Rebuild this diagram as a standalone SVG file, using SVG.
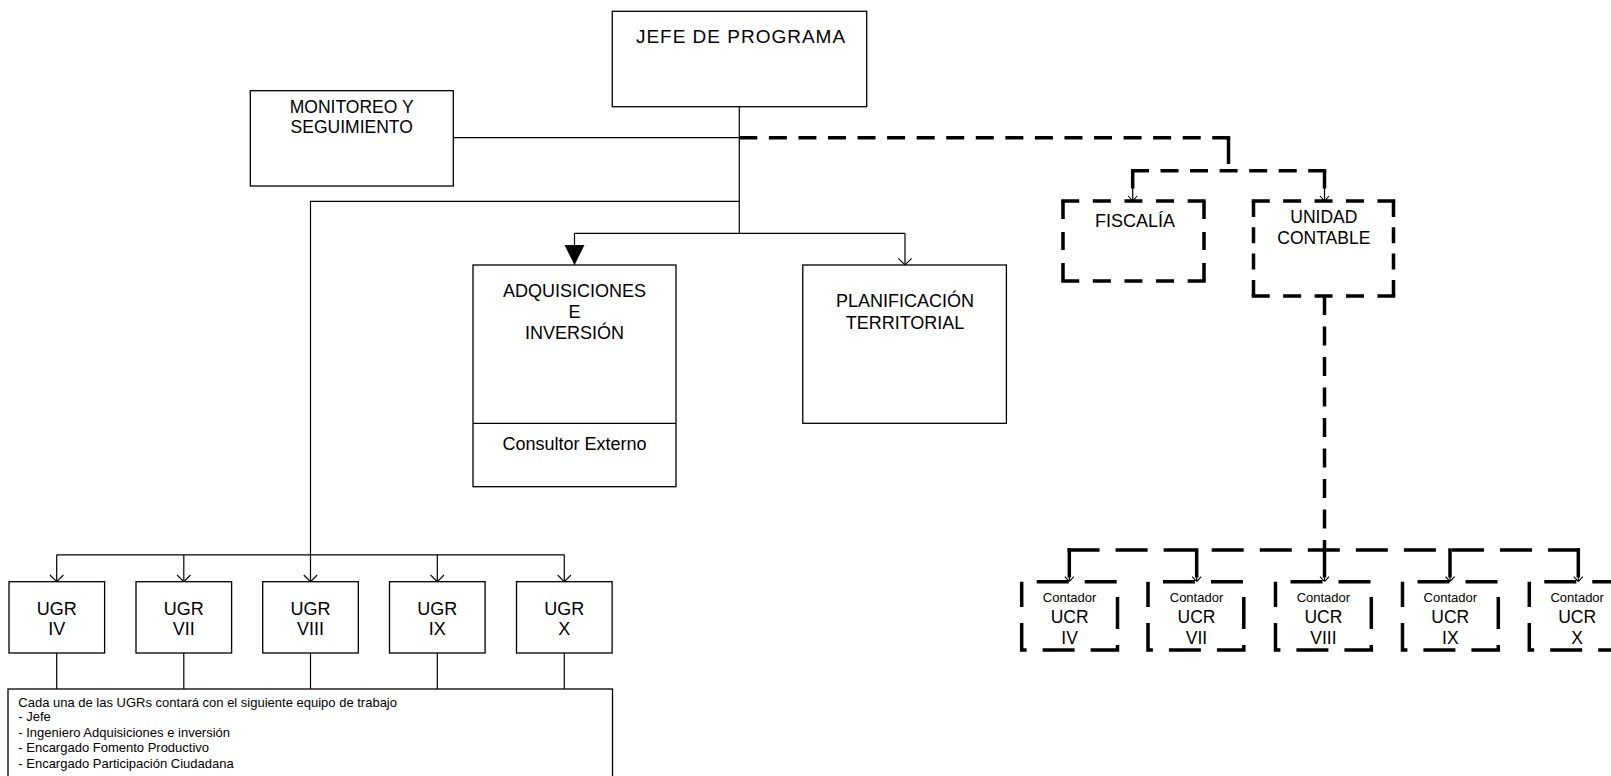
<svg xmlns="http://www.w3.org/2000/svg" width="1611" height="776" viewBox="0 0 1611 776">
<defs>
<style>
.box{fill:#fff;stroke:#000;stroke-width:1.3}
.t{font-family:"Liberation Sans",Arial,sans-serif;fill:#000;text-anchor:middle;font-size:18px}
.tl{font-family:"Liberation Sans",Arial,sans-serif;fill:#000;font-size:13px}
.sm{font-size:13px}
.ln{fill:none;stroke:#000;stroke-width:1.2}
.thk{fill:none;stroke:#000;stroke-width:3.5;stroke-linecap:butt}
.dh{fill:none;stroke:#000;stroke-width:3.5}
.ucr{fill:#fff;stroke:#000;stroke-width:3.5;stroke-dasharray:32 16;stroke-dashoffset:33}
</style>
<marker id="av" viewBox="-8 -8 9 16" refX="0" refY="0" markerWidth="9" markerHeight="16" markerUnits="userSpaceOnUse" orient="auto"><path d="M-6.7,-6.7 L0,0 L-6.7,6.7" fill="none" stroke="#000" stroke-width="1.1"/></marker>
<marker id="as" viewBox="-7 -6 8 12" refX="0" refY="0" markerWidth="8" markerHeight="12" markerUnits="userSpaceOnUse" orient="auto"><path d="M-5,-4.5 L0,0 L-5,4.5" fill="none" stroke="#000" stroke-width="1.1"/></marker>
<marker id="af" viewBox="-21 -11 22 22" refX="0" refY="0" markerWidth="22" markerHeight="22" markerUnits="userSpaceOnUse" orient="auto"><path d="M-20,-10 L0,0 L-20,10 Z" fill="#000"/></marker>
</defs>
<rect x="0" y="0" width="1611" height="776" fill="#fff"/>

<g id="connectors">
  <g id="solid-connectors">
    <path class="ln" d="M453.3,137.7 H739.3"/>
    <path class="ln" d="M739.3,106.7 V233.3"/>
    <path class="ln" d="M739.3,201.3 H310.5 V554.8"/>
    <path class="ln" d="M574.5,233.3 H905"/>
    <path class="ln" d="M574.5,233.3 V265" marker-end="url(#af)"/>
    <path class="ln" d="M905,233.3 V265" marker-end="url(#av)"/>
    <path class="ln" d="M56.7,554.8 H564.3"/>
    <path class="ln" d="M56.7,554.8 V581.7" marker-end="url(#av)"/>
    <path class="ln" d="M183.8,554.8 V581.7" marker-end="url(#av)"/>
    <path class="ln" d="M310.5,554.8 V581.7" marker-end="url(#av)"/>
    <path class="ln" d="M437.3,554.8 V581.7" marker-end="url(#av)"/>
    <path class="ln" d="M564.3,554.8 V581.7" marker-end="url(#av)"/>
    <path class="ln" d="M56.7,653 V689 M183.8,653 V689 M310.5,653 V689 M437.3,653 V689 M564.3,653 V689"/>
  </g>
  <g id="dashed-connectors">
    <path class="thk" d="M739.3,137.7 H1230.25" style="stroke-dasharray:18 11.56"/>
    <path class="thk" d="M1228.5,137.7 V164"/>
    <path class="thk" d="M1130.95,170.7 H1326.25" style="stroke-dasharray:18 11.55"/>
    <path class="thk" d="M1132.7,170.7 V188.5 M1324.5,170.7 V188.5"/>
    <path class="ln" d="M1132.7,188 V201" marker-end="url(#as)"/>
    <path class="ln" d="M1324.5,188 V201" marker-end="url(#as)"/>
    <path class="thk" d="M1324.5,296 V540" style="stroke-dasharray:19 11.5"/>
    <path class="thk" d="M1324.5,540 V577.5"/>
    <path class="thk" d="M1067.55,550 H1580.05" style="stroke-dasharray:32 16.05"/>
    <path class="thk" d="M1069.3,548.25 V577.5 M1196.7,548.25 V577.5 M1450,548.25 V577.5 M1578.3,548.25 V577.5"/>
    <path class="ln" d="M1069.3,577 V581.7" marker-end="url(#as)"/>
    <path class="ln" d="M1196.7,577 V581.7" marker-end="url(#as)"/>
    <path class="ln" d="M1324.5,577 V581.7" marker-end="url(#as)"/>
    <path class="ln" d="M1450,577 V581.7" marker-end="url(#as)"/>
    <path class="ln" d="M1578.3,577 V581.7" marker-end="url(#as)"/>
  </g>
</g>

<g id="jefe">
  <rect class="box" x="612.3" y="11.3" width="254.4" height="95.4"/>
  <text class="t" x="741" y="42.7" style="font-size:19px;letter-spacing:1px">JEFE DE PROGRAMA</text>
</g>
<g id="monitoreo">
  <rect class="box" x="250.3" y="90.7" width="203" height="95.3"/>
  <text class="t" x="351.7" y="112.7" style="font-size:17.5px">MONITOREO Y</text>
  <text class="t" x="351.7" y="133.3" style="font-size:17.5px">SEGUIMIENTO</text>
</g>
<g id="adquisiciones">
  <rect class="box" x="473" y="265" width="203" height="221.7"/>
  <line class="ln" x1="473" y1="423.3" x2="676" y2="423.3"/>
  <text class="t" x="574.5" y="296.7">ADQUISICIONES</text>
  <text class="t" x="574.5" y="317.7">E</text>
  <text class="t" x="574.5" y="339.3">INVERSIÓN</text>
  <text class="t" x="574.5" y="450">Consultor Externo</text>
</g>
<g id="planificacion">
  <rect class="box" x="802.8" y="265" width="203.6" height="158.3"/>
  <text class="t" x="905" y="307.3">PLANIFICACIÓN</text>
  <text class="t" x="905" y="329.3">TERRITORIAL</text>
</g>
<g id="fiscalia">
  <rect x="1063" y="201" width="141" height="80" fill="#fff"/>
  <path class="dh" d="M1061.25,201 H1205.75 M1061.25,281 H1205.75" style="stroke-dasharray:18 13.6"/>
  <path class="dh" d="M1063,201 V281 M1204,201 V281" style="stroke-dasharray:18 13"/>
  <text class="t" x="1135" y="226.7">FISCALÍA</text>
</g>
<g id="unidad-contable">
  <rect x="1253.5" y="201" width="140" height="95" fill="#fff"/>
  <path class="dh" d="M1251.75,201 H1395.25 M1251.75,296 H1395.25" style="stroke-dasharray:18 13.4"/>
  <path class="dh" d="M1253.5,201 V296 M1393.5,201 V296" style="stroke-dasharray:16 10.3"/>
  <text class="t" x="1323.8" y="222.7" style="font-size:17.5px">UNIDAD</text>
  <text class="t" x="1323.8" y="244" style="font-size:17.5px">CONTABLE</text>
</g>

<g id="ugr-iv">
  <rect class="box" x="9" y="581.7" width="95.6" height="71.3"/>
  <text class="t" x="56.7" y="615">UGR</text>
  <text class="t" x="56.7" y="635">IV</text>
</g>
<g id="ugr-vii">
  <rect class="box" x="136" y="581.7" width="95.6" height="71.3"/>
  <text class="t" x="183.8" y="615">UGR</text>
  <text class="t" x="183.8" y="635">VII</text>
</g>
<g id="ugr-viii">
  <rect class="box" x="262.7" y="581.7" width="95.6" height="71.3"/>
  <text class="t" x="310.5" y="615">UGR</text>
  <text class="t" x="310.5" y="635">VIII</text>
</g>
<g id="ugr-ix">
  <rect class="box" x="389.5" y="581.7" width="95.6" height="71.3"/>
  <text class="t" x="437.3" y="615">UGR</text>
  <text class="t" x="437.3" y="635">IX</text>
</g>
<g id="ugr-x">
  <rect class="box" x="516.5" y="581.7" width="95.6" height="71.3"/>
  <text class="t" x="564.3" y="615">UGR</text>
  <text class="t" x="564.3" y="635">X</text>
</g>

<g id="equipo">
  <rect class="box" x="8" y="689" width="604.5" height="120"/>
  <text class="tl" x="18.3" y="706.5">Cada una de las UGRs contará con el siguiente equipo de trabajo</text>
  <text class="tl" x="18.3" y="721">- Jefe</text>
  <text class="tl" x="18.3" y="736.5">- Ingeniero Adquisiciones e inversión</text>
  <text class="tl" x="18.3" y="752">- Encargado Fomento Productivo</text>
  <text class="tl" x="18.3" y="767.5">- Encargado Participación Ciudadana</text>
</g>

<g id="ucr-iv">
  <rect class="ucr" x="1021.7" y="581.7" width="95.8" height="68.3"/>
  <text class="t sm" x="1069.6" y="601.7">Contador</text>
  <text class="t" x="1069.6" y="623.3" style="font-size:17.5px">UCR</text>
  <text class="t" x="1069.6" y="644" style="font-size:17.5px">IV</text>
</g>
<g id="ucr-vii">
  <rect class="ucr" x="1148" y="581.7" width="95.8" height="68.3"/>
  <text class="t sm" x="1196.5" y="601.7">Contador</text>
  <text class="t" x="1196.5" y="623.3" style="font-size:17.5px">UCR</text>
  <text class="t" x="1196.5" y="644" style="font-size:17.5px">VII</text>
</g>
<g id="ucr-viii">
  <rect class="ucr" x="1275.5" y="581.7" width="95.8" height="68.3"/>
  <text class="t sm" x="1323.4" y="601.7">Contador</text>
  <text class="t" x="1323.4" y="623.3" style="font-size:17.5px">UCR</text>
  <text class="t" x="1323.4" y="644" style="font-size:17.5px">VIII</text>
</g>
<g id="ucr-ix">
  <rect class="ucr" x="1402.5" y="581.7" width="95.8" height="68.3"/>
  <text class="t sm" x="1450.3" y="601.7">Contador</text>
  <text class="t" x="1450.3" y="623.3" style="font-size:17.5px">UCR</text>
  <text class="t" x="1450.3" y="644" style="font-size:17.5px">IX</text>
</g>
<g id="ucr-x">
  <rect class="ucr" x="1529.3" y="581.7" width="95.8" height="68.3"/>
  <text class="t sm" x="1577.2" y="601.7">Contador</text>
  <text class="t" x="1577.2" y="623.3" style="font-size:17.5px">UCR</text>
  <text class="t" x="1577.2" y="644" style="font-size:17.5px">X</text>
</g>
</svg>
